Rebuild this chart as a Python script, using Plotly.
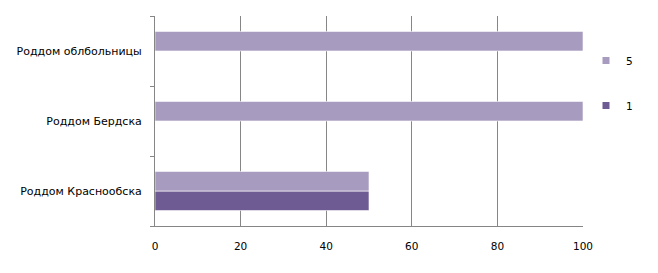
import plotly.graph_objects as go

categories = ["Роддом Краснообска", "Роддом Бердска", "Роддом облбольницы"]
series_1 = [50, 0, 0]
series_5 = [50, 100, 100]
x_ticks = [0, 20, 40, 60, 80, 100]
color_1 = "#6F5B93"
color_5 = "#A79BBF"

fig = go.Figure()
fig.add_trace(go.Bar(y=categories, x=series_1, orientation="h", name="1",
                     showlegend=False,
                     marker=dict(color=color_1, line=dict(color="white", width=0.6))))
fig.add_trace(go.Bar(y=categories, x=series_5, orientation="h", name="5",
                     showlegend=False,
                     marker=dict(color=color_5, line=dict(color="white", width=0.6))))
# legend entries with small square markers
fig.add_trace(go.Scatter(x=[None], y=[None], mode="markers", name="5", legendgroup="g5",
                         marker=dict(symbol="square", size=7, color=color_5)))
fig.add_trace(go.Scatter(x=[None], y=[None], mode="markers", name="1", legendgroup="g1",
                         marker=dict(symbol="square", size=7, color=color_1)))

fig.update_layout(
    width=658, height=273,
    margin=dict(l=155, r=75, t=16, b=47, autoexpand=False),
    paper_bgcolor="white", plot_bgcolor="white",
    barmode="group", bargap=0.44, bargroupgap=0,
    font=dict(family="DejaVu Sans", size=10.5, color="black"),
    legend=dict(xref="container", yref="container", x=586/658, y=1 - 46/273,
                xanchor="left", yanchor="top", bgcolor="rgba(0,0,0,0)",
                traceorder="grouped", tracegroupgap=26,
                font=dict(size=10.5), itemwidth=30),
    xaxis=dict(range=[0, 100], tickvals=x_ticks, showgrid=True,
               gridcolor="#868686", gridwidth=1, zeroline=False,
               showline=True, linecolor="#868686", ticks="",
               ticklabelstandoff=10, fixedrange=True),
    yaxis=dict(showline=True, linecolor="#868686", ticks="outside",
               tickson="boundaries", ticklen=4, tickcolor="#868686",
               showgrid=False, ticklabelstandoff=10, tickfont=dict(size=11)),
)

fig.write_html("out.html")
